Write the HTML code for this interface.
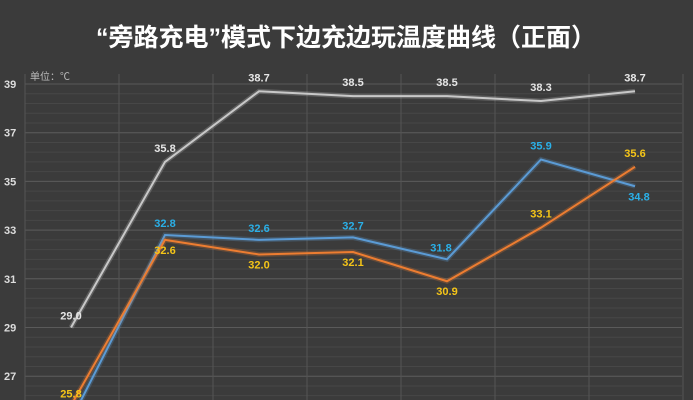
<!DOCTYPE html>
<html><head><meta charset="utf-8"><style>
html,body{margin:0;background:#3b3b3b;width:693px;height:400px;overflow:hidden;}
svg{display:block;font-family:"Liberation Sans","Noto Sans CJK SC",sans-serif;}
</style></head><body>
<svg id="c" width="693" height="400">
<rect width="693" height="400" fill="#3b3b3b"/>
<text x="346" y="46" text-anchor="middle" fill="#ffffff" font-size="25" font-weight="bold">“旁路充电”模式下边充边玩温度曲线（正面）</text>
<text x="30" y="80" fill="#bbbbbb" font-size="10">单位：℃</text>
<g id="grid"></g><g id="series"></g><g id="labels"></g>
</svg>
<script>
const categories=[1,2,3,4,5,6,7];
const grayValues=[29.0,35.8,38.7,38.5,38.5,38.3,38.7];
const blueValues=[25.2,32.8,32.6,32.7,31.8,35.9,34.8];
const orangeValues=[25.8,32.6,32.0,32.1,30.9,33.1,35.6];
const yTicks=[27,29,31,33,35,37,39];
const NS="http://www.w3.org/2000/svg";
const L=25,R=682,y0=84,ppu=24.35,step=94,x0=71;
const xs=i=>x0+i*step, ys=v=>y0+(39-v)*ppu;
function mk(t,a,p){const e=document.createElementNS(NS,t);for(const k in a)e.setAttribute(k,a[k]);p.appendChild(e);return e;}
const g=document.getElementById('grid'),s=document.getElementById('series'),lb=document.getElementById('labels');
for(let v=39;v>24;v-=0.4){const y=ys(v);const l=mk('line',{x1:L,x2:R,y1:y,y2:y,stroke:'#474747','stroke-width':1},g);

}
yTicks.forEach(v=>{const y=ys(v);const l=mk('line',{x1:L,x2:R,y1:y,y2:y,stroke:'#5a5a5a','stroke-width':1},g);


const t=mk('text',{x:4,y:y+4,fill:'#dddddd','font-size':11,'font-weight':'bold'},g);t.textContent=v;

});
for(let i=0;i<=categories.length;i++){const x=L+i*step;const l=mk('line',{x1:x,x2:x,y1:y0-10,y2:400,stroke:'#555555','stroke-width':1},g);

}
function series(vals,col,lc,name,dy,dx){
const pts=vals.map((v,i)=>xs(i)+','+ys(v)).join(' ');
const gl=mk('polyline',{points:pts,fill:'none',stroke:col,'stroke-width':5,'stroke-opacity':0.25},s);


const p=mk('polyline',{points:pts,fill:'none',stroke:col,'stroke-width':2},s);


vals.forEach((v,i)=>{const t=mk('text',{x:xs(i)+dx[i],y:ys(v)+dy[i],fill:lc,'font-size':11,'font-weight':'bold','text-anchor':'middle'},lb);
t.textContent=v.toFixed(1);

});
}
series(grayValues,'#c8c8c8','#e6e6e6','gray-series',[-8,-10,-10,-10,-10,-10,-10],[0,0,0,0,0,0,0]);
series(blueValues,'#5b9bd5','#2ab0e8','blue-series',[-8,-8,-8,-8,-8,-10,14],[0,0,0,0,-6,0,4]);
series(orangeValues,'#ed7d31','#f5c518','orange-series',[-8,14,14,14,14,-10,-10],[0,0,0,0,0,0,0]);
</script>
</body></html>
